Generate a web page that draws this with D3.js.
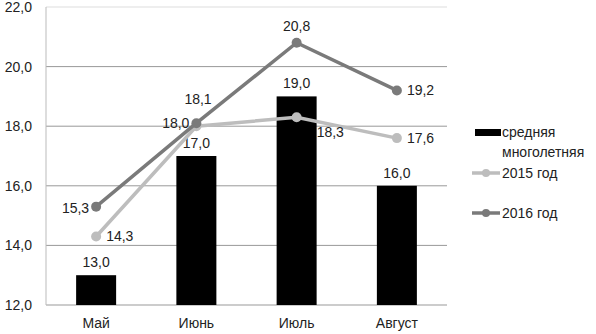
<!DOCTYPE html>
<html>
<head>
<meta charset="utf-8">
<script src="https://cdn.jsdelivr.net/npm/d3@7"></script>
<style>
  body { margin: 0; background: #fff; }
  text { font-family: "Liberation Sans", Arial, sans-serif; font-size: 14px; fill: #222; }
</style>
</head>
<body>
<svg id="chart" width="596" height="334"></svg>
<script>
const months = ['Май', 'Июнь', 'Июль', 'Август'];
const avgValues = [13.0, 17.0, 19.0, 16.0];
const values2015 = [14.3, 18.0, 18.3, 17.6];
const values2016 = [15.3, 18.1, 20.8, 19.2];
const yTicks = [12, 14, 16, 18, 20, 22];
const legendLabels = ['средняя', 'многолетняя', '2015 год', '2016 год'];

const margin = {top: 7, left: 46};
const w = 401, h = 298;
const svg = d3.select('#chart');
const main = svg.append('g').attr('transform', `translate(${margin.left},${margin.top})`);

const fmt = v => d3.format('.1f')(v).replace('.', ',');

const x = d3.scaleBand().domain(months).range([0, w]);
const y = d3.scaleLinear().domain([12, 22]).range([h, 0]);

// grid
main.selectAll('.grid').data(yTicks).enter().append('line')
  .attr('x1', 0).attr('x2', w)
  .attr('y1', d => y(d)).attr('y2', d => y(d))
  .attr('stroke', d => d === 22 ? '#ddd' : '#999').attr('stroke-width', 1);
main.append('line').attr('x1', 0).attr('x2', 0).attr('y1', 0).attr('y2', h)
  .attr('stroke', '#bbb');

// y tick labels
main.selectAll('.yl').data(yTicks).enter().append('text')
  .attr('x', -14).attr('y', d => y(d) + 5)
  .attr('text-anchor', 'end')
  .text(fmt);

// x labels
main.selectAll('.xl').data(months).enter().append('text')
  .attr('x', d => x(d) + x.bandwidth() / 2).attr('y', h + 23)
  .attr('text-anchor', 'middle')
  .text(d => d);

// bars
const bw = 40;
main.selectAll('.bar').data(avgValues).enter().append('rect')
  .attr('x', (d, i) => x(months[i]) + x.bandwidth() / 2 - bw / 2)
  .attr('y', d => y(d)).attr('width', bw).attr('height', d => h - y(d))
  .attr('fill', '#000');
main.selectAll('.bl').data(avgValues).enter().append('text')
  .attr('x', (d, i) => x(months[i]) + x.bandwidth() / 2).attr('y', d => y(d) - 8)
  .attr('text-anchor', 'middle').text(fmt);

// lines
const cx = i => x(months[i]) + x.bandwidth() / 2;
const line = d3.line().x((d, i) => cx(i)).y(d => y(d));
const series = [
  {vals: values2015, color: '#bdbdbd'},
  {vals: values2016, color: '#7a7a7a'}
];
series.forEach(s => {
  main.append('path').datum(s.vals).attr('d', line)
    .attr('fill', 'none').attr('stroke', s.color).attr('stroke-width', 3.5);
  main.selectAll(null).data(s.vals).enter().append('circle')
    .attr('cx', (d, i) => cx(i)).attr('cy', d => y(d)).attr('r', 5)
    .attr('fill', s.color);
});

// line labels: [dx, dy, anchor]
const pos2015 = [[10, 5, 'start'], [-7, 2, 'end'], [20, 20, 'start'], [10, 5, 'start']];
const pos2016 = [[-7, 6, 'end'], [-12, -19, 'start'], [0, -12, 'middle'], [10, 5, 'start']];
[[values2015, pos2015], [values2016, pos2016]].forEach(([vals, pos]) => {
  main.selectAll(null).data(vals).enter().append('text')
    .attr('x', (d, i) => cx(i) + pos[i][0]).attr('y', (d, i) => y(d) + pos[i][1])
    .attr('text-anchor', (d, i) => pos[i][2]).text(fmt);
});

// legend
const lg = svg.append('g').attr('transform', 'translate(474,0)');
lg.append('rect').attr('x', 1).attr('y', 129).attr('width', 26).attr('height', 7).attr('fill', '#000');
lg.append('text').attr('x', 28).attr('y', 137).text(legendLabels[0]);
lg.append('text').attr('x', 28).attr('y', 157).text(legendLabels[1]);
[[series[0].color, 173, legendLabels[2]], [series[1].color, 213, legendLabels[3]]].forEach(([c, yy, t]) => {
  lg.append('line').attr('x1', -2).attr('x2', 26).attr('y1', yy).attr('y2', yy)
    .attr('stroke', c).attr('stroke-width', 3.5);
  lg.append('circle').attr('cx', 12).attr('cy', yy).attr('r', 4).attr('fill', c);
  lg.append('text').attr('x', 28).attr('y', yy + 5).text(t);
});
</script>
</body>
</html>
